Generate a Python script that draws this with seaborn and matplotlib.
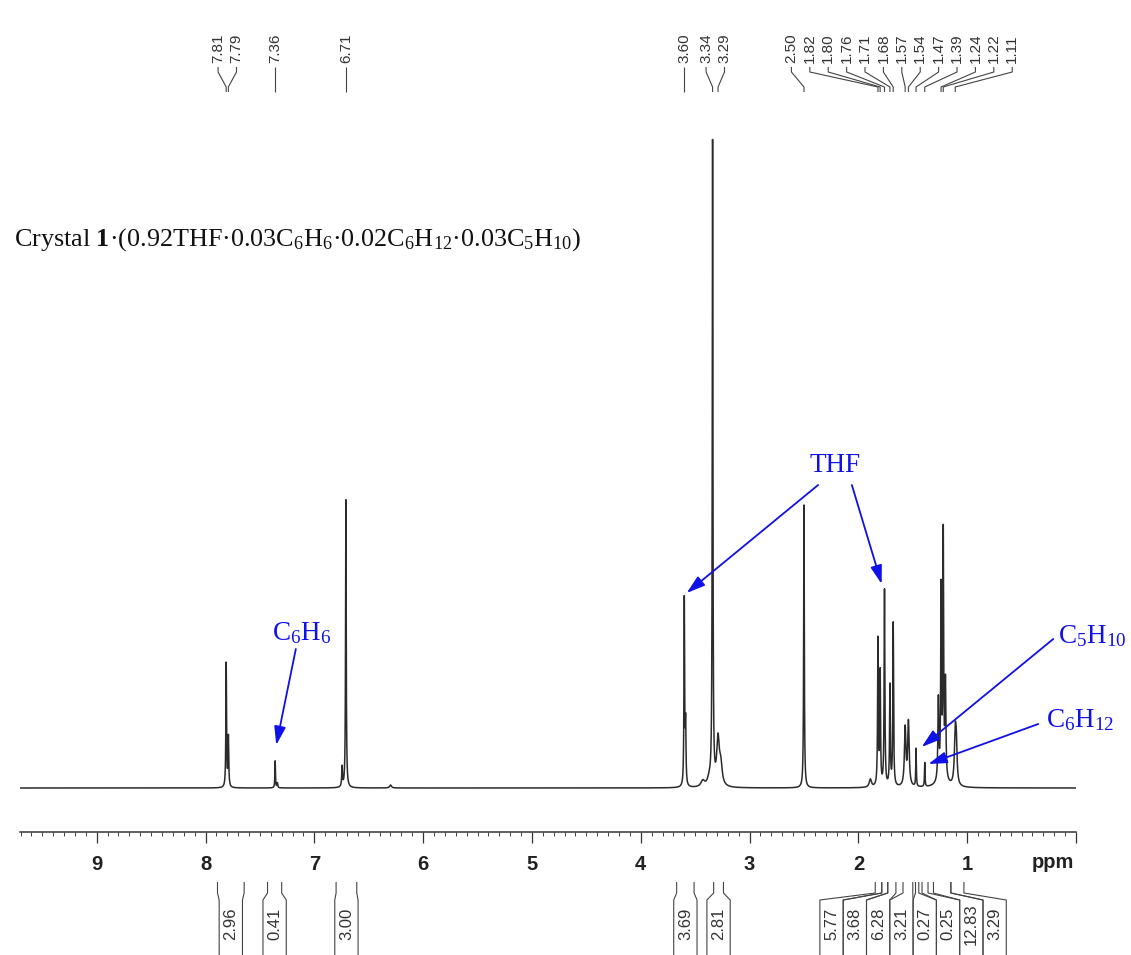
import numpy as np
import pandas as pd
import matplotlib
matplotlib.use("Agg")
import matplotlib.pyplot as plt
from matplotlib.ticker import MultipleLocator, FixedLocator
import seaborn as sns

# ---------------------------------------------------------------- data
# Labelled signals: chemical shift (ppm), peak intensity, half width (ppm)
peak_ppm = [7.81, 7.79, 7.36, 6.71, 3.60, 3.34, 3.29, 2.50,
            1.82, 1.80, 1.76, 1.71, 1.68, 1.57, 1.54, 1.47, 1.39,
            1.24, 1.22, 1.11]
peak_height = [124, 50, 27, 288, 186, 642, 46, 283,
               146, 112, 196, 100, 163, 58, 64, 38, 24,
               185, 240, 50]
peak_hwhm = [0.0035, 0.004, 0.003, 0.0035, 0.0035, 0.0035, 0.014, 0.0035,
             0.004, 0.004, 0.004, 0.004, 0.004, 0.008, 0.008, 0.003, 0.003,
             0.004, 0.004, 0.009]

# Unlabelled shoulders and weak features
minor_ppm = [7.34, 6.745, 6.30, 3.588, 3.43, 3.37, 3.265, 1.89, 1.265, 1.20, 1.10, 1.23]
minor_height = [5, 20, 3, 60, 6, 7, 20, 8, 80, 95, 35, 10]
minor_hwhm = [0.004, 0.004, 0.01, 0.004, 0.02, 0.02, 0.015, 0.012, 0.005, 0.005, 0.008, 0.04]

# Integral regions (ppm, high -> low) and their values
integral_start = [7.89, 7.43, 6.80, 3.67, 3.33, 1.845, 1.785, 1.73, 1.59, 1.475, 1.415, 1.31, 1.15]
integral_end = [7.645, 7.30, 6.61, 3.51, 3.24, 1.785, 1.73, 1.655, 1.50, 1.445, 1.36, 1.15, 1.03]
integral_value = ["2.96", "0.41", "3.00", "3.69", "2.81", "5.77", "3.68", "6.28",
                  "3.21", "0.27", "0.25", "12.83", "3.29"]

# Axis
ppm_ticks = [0, 1, 2, 3, 4, 5, 6, 7, 8, 9]
ppm_tick_labels = ["", "1", "2", "3", "4", "5", "6", "7", "8", "9"]

# Solvent / impurity annotations: label, label position, arrow tails and heads
note_text = ["C$_6$H$_6$", "THF", "C$_5$H$_{10}$", "C$_6$H$_{12}$"]
note_pos = [(7.12, 155), (2.215, 322), (-0.15, 152), (-0.04, 68)]
note_arrows = [
    [((7.17, 139), (7.35, 43))],
    [((2.37, 303), (3.578, 195)), ((2.06, 303), (1.786, 204))],
    [((0.209, 149), (1.418, 41))],
    [((0.347, 64), (1.357, 24))],
]

title = "Crystal $\\mathbf{1}$\u00b7(0.92THF\u00b70.03C$_6$H$_6$\u00b70.02C$_6$H$_{12}$\u00b70.03C$_5$H$_{10}$)"

# ---------------------------------------------------------------- style
sns.set_theme(style="white")
plt.rcParams["font.family"] = ["Liberation Sans", "DejaVu Sans"]
plt.rcParams["mathtext.fontset"] = "custom"
plt.rcParams["mathtext.rm"] = "Liberation Serif"
plt.rcParams["mathtext.it"] = "Liberation Serif:italic"
plt.rcParams["mathtext.bf"] = "Liberation Serif:bold"

W, H = 1131, 955
fig = plt.figure(figsize=(W / 100, H / 100), dpi=100, facecolor="white")

ax_left, ax_right, ax_bottom_px = 20, 1076, 832
ax = fig.add_axes([ax_left / W, (H - ax_bottom_px) / H,
                   (ax_right - ax_left) / W, ax_bottom_px / H])
ax.set_facecolor("none")

XMAX, XMIN = 9.705, 0.0
YMIN, YMAX = -44, 788            # intensity units equal screen pixels
px_per_ppm = (ax_right - ax_left) / (XMAX - XMIN)

# ---------------------------------------------------------------- spectrum
grid = np.linspace(XMAX, XMIN, 60000)
centres = np.array(peak_ppm + minor_ppm)
heights = np.array(peak_height + minor_height, dtype=float)
widths = np.array(peak_hwhm + minor_hwhm)
spec = (heights[:, None] * widths[:, None] ** 2 /
        ((grid[None, :] - centres[:, None]) ** 2 + widths[:, None] ** 2)).sum(axis=0)
df = pd.DataFrame({"ppm": grid, "intensity": spec})
sns.lineplot(data=df, x="ppm", y="intensity", ax=ax, color="#2b2b2b",
             linewidth=1.1, estimator=None, sort=False, errorbar=None)

ax.set_xlim(XMAX, XMIN)
ax.set_ylim(YMIN, YMAX)
ax.set_xlabel("")
ax.set_ylabel("")
for side in ("top", "right", "left"):
    ax.spines[side].set_visible(False)
ax.spines["bottom"].set_color("#333333")
ax.spines["bottom"].set_linewidth(1.1)
ax.set_yticks([])
ax.xaxis.set_major_locator(FixedLocator(ppm_ticks))
ax.set_xticklabels(ppm_tick_labels, fontsize=14.5, fontweight="bold", color="#222222")
ax.xaxis.set_minor_locator(MultipleLocator(0.1))
ax.tick_params(axis="x", which="major", direction="out", length=8, width=0.9,
               color="#333333", pad=8.5, bottom=True)
ax.tick_params(axis="x", which="minor", direction="out", length=3.2, width=0.7,
               color="#444444", bottom=True)
ax.text(0.215, -74, "ppm", ha="center", va="center", fontsize=14.5,
        fontweight="bold", color="#222222", clip_on=False)


# ---------------------------------------------------------------- label spreading
def spread(values, gap):
    """Place labels along the axis, pushing crowded ones apart by `gap`."""
    pos = [-v for v in values]
    order = np.argsort(pos)
    clusters = [[i] for i in order]
    changed = True
    place = {}
    while changed:
        changed = False
        place = {}
        for cl in clusters:
            c = np.mean([pos[i] for i in cl])
            n = len(cl)
            for k, i in enumerate(cl):
                place[i] = c + (k - (n - 1) / 2) * gap
        for j in range(len(clusters) - 1):
            a, b = clusters[j], clusters[j + 1]
            if place[b[0]] - place[a[-1]] < gap - 1e-9:
                clusters[j] = a + b
                del clusters[j + 1]
                changed = True
                break
    return [-place[i] for i in range(len(values))]


line_kw = dict(color="#444444", linewidth=0.8, clip_on=False, solid_capstyle="butt")

# Peak picking labels along the top
top_gap = 18.4 / px_per_ppm
lab_x = spread(peak_ppm, top_gap)
y_txt, y_a, y_b, y_c = 788 - 63, 788 - 67, 788 - 72, 788 - 87
y_d = 788 - 92
for p, lx in zip(peak_ppm, lab_x):
    ax.text(lx, y_txt, f"{p:.2f}", rotation=90, ha="center", va="bottom",
            fontsize=11, color="#333333", clip_on=False)
    ax.plot([lx, lx, p, p], [y_a, y_b, y_c, y_d], **line_kw)

# Integral labels along the bottom
box_w = 23.3 / px_per_ppm
centres_int = [(a + b) / 2 for a, b in zip(integral_start, integral_end)]
box_c = spread(centres_int, box_w)
yi_top, yi_bend, yi_box, yi_end = 788 - 882, 788 - 893, 788 - 900, 788 - 970
yi_txt = 788 - 924
for a, b, c, v in zip(integral_start, integral_end, box_c, integral_value):
    left, right = c + box_w / 2, c - box_w / 2
    ax.plot([a, a, left, left], [yi_top, yi_bend, yi_box, yi_end], **line_kw)
    ax.plot([b, b, right, right], [yi_top, yi_bend, yi_box, yi_end], **line_kw)
    ax.text(c, yi_txt, v, rotation=90, ha="center", va="center",
            fontsize=12, color="#333333", clip_on=False)

# ---------------------------------------------------------------- annotations
blue = "#1010e8"
for txt, (tx, ty), arrows in zip(note_text, note_pos, note_arrows):
    ax.text(tx, ty, txt, ha="center", va="center", color=blue, fontsize=19.5,
            family=["Liberation Serif", "DejaVu Serif"], clip_on=False)
    for tail, head in arrows:
        ax.annotate("", xy=head, xytext=tail, annotation_clip=False,
                    arrowprops=dict(arrowstyle="-|>,head_length=0.8,head_width=0.25",
                                    color=blue, lw=1.3, shrinkA=0, shrinkB=0,
                                    mutation_scale=14))

fig.text(14 / W, 1 - 240 / H, title, ha="left", va="center", fontsize=18.8,
         family=["Liberation Serif", "DejaVu Serif"], color="#111111")

fig.savefig("out.png", dpi=100, facecolor="white")
